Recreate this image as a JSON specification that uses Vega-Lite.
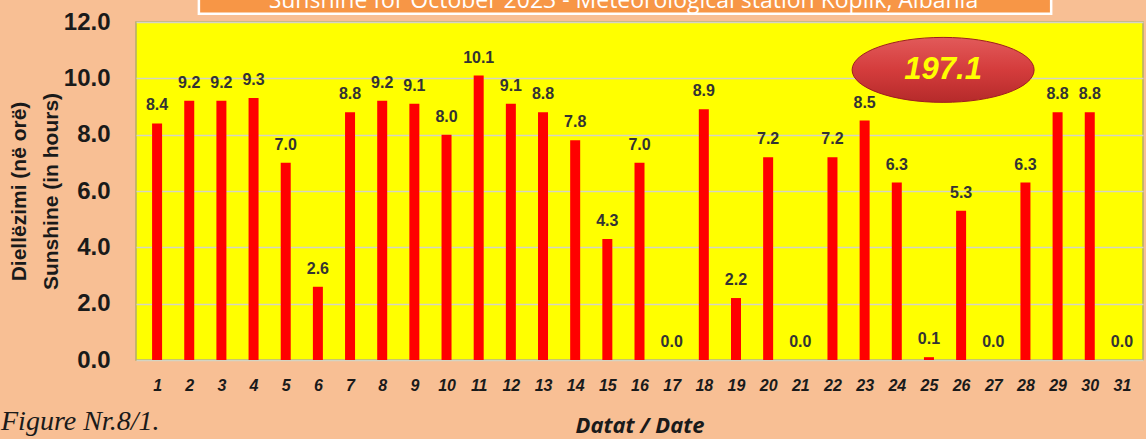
{
  "$schema": "https://vega.github.io/schema/vega-lite/v6.json",
  "width": 1007,
  "height": 338,
  "autosize": {"type": "none"},
  "padding": {"left": 136, "top": 22, "right": 3, "bottom": 79},
  "background": "#f8bf94",
  "config": {
    "view": {"fill": "#ffff00", "stroke": "#b3ad6a", "strokeWidth": 1.5},
    "font": "Liberation Sans",
    "axisX": {
      "labelOverlap": false, "labelFlush": false, "labelBound": false,
      "grid": false, "ticks": false, "domain": false,
      "labelFont": "Liberation Sans", "labelFontSize": 16,
      "labelFontStyle": "italic", "labelFontWeight": "bold",
      "labelColor": "#1a1a1a", "labelPadding": 17,
      "titleFont": "Open Sans", "titleFontSize": 22,
      "titleFontStyle": "italic", "titleFontWeight": "bold",
      "titleColor": "#1a1a1a", "titlePadding": 22
    },
    "axisY": {
      "labelOverlap": false, "ticks": false, "domain": false,
      "gridColor": "#d4d4c4", "gridWidth": 1.5,
      "labelFont": "Liberation Sans", "labelFontSize": 24,
      "labelFontWeight": "bold", "labelColor": "#1a1a1a", "labelPadding": 26,
      "titleFont": "Liberation Sans", "titleFontSize": 21,
      "titleFontWeight": "bold", "titleColor": "#1a1a1a",
      "titleLineHeight": 32
    }
  },
  "title": {
    "text": "Figure Nr.8/1.",
    "orient": "bottom",
    "anchor": "start",
    "frame": "group",
    "font": "Liberation Serif",
    "fontSize": 28,
    "fontStyle": "italic",
    "fontWeight": "normal",
    "color": "#1a1a1a",
    "baseline": "alphabetic",
    "dx": -135,
    "dy": -6,
    "offset": 0
  },
  "datasets": {
    "days": [
      {"day": 1, "hours": 8.4}, {"day": 2, "hours": 9.2}, {"day": 3, "hours": 9.2},
      {"day": 4, "hours": 9.3}, {"day": 5, "hours": 7.0}, {"day": 6, "hours": 2.6},
      {"day": 7, "hours": 8.8}, {"day": 8, "hours": 9.2}, {"day": 9, "hours": 9.1},
      {"day": 10, "hours": 8.0}, {"day": 11, "hours": 10.1}, {"day": 12, "hours": 9.1},
      {"day": 13, "hours": 8.8}, {"day": 14, "hours": 7.8}, {"day": 15, "hours": 4.3},
      {"day": 16, "hours": 7.0}, {"day": 17, "hours": 0.0}, {"day": 18, "hours": 8.9},
      {"day": 19, "hours": 2.2}, {"day": 20, "hours": 7.2}, {"day": 21, "hours": 0.0},
      {"day": 22, "hours": 7.2}, {"day": 23, "hours": 8.5}, {"day": 24, "hours": 6.3},
      {"day": 25, "hours": 0.1}, {"day": 26, "hours": 5.3}, {"day": 27, "hours": 0.0},
      {"day": 28, "hours": 6.3}, {"day": 29, "hours": 8.8}, {"day": 30, "hours": 8.8},
      {"day": 31, "hours": 0.0}
    ],
    "total": [{"day": 25.44, "hours": 10.3, "label": "197.1"}],
    "header": [{"day": 2.3, "day2": 28.8, "hours": 12.29, "hours2": 13.6, "mid": 15.5, "base": 12.5, "label": "Sunshine for October 2023 - Meteorological station Koplik, Albania"}]
  },
  "layer": [
    {
      "data": {"name": "days"},
      "mark": {"type": "bar", "width": 10, "color": "#ff0000"},
      "encoding": {
        "x": {
          "field": "day", "type": "quantitative",
          "scale": {"domain": [0.5, 31.5], "nice": false, "zero": false},
          "axis": {
            "title": "Datat / Date",
            "values": [1,2,3,4,5,6,7,8,9,10,11,12,13,14,15,16,17,18,19,20,21,22,23,24,25,26,27,28,29,30,31],
            "tickCount": 40,
            "format": "d",
            "labelOverlap": false
          }
        },
        "y": {
          "field": "hours", "type": "quantitative",
          "scale": {"domain": [0, 12], "nice": false},
          "axis": {
            "values": [0, 2, 4, 6, 8, 10, 12],
            "tickCount": 10,
            "format": ".1f",
            "title": ["Diellëzimi  (në  orë)", "Sunshine  (in  hours)"],
            "titleAngle": -90,
            "titleX": -107, "titleY": 169,
            "titleAlign": "center", "titleBaseline": "bottom"
          }
        }
      }
    },
    {
      "data": {"name": "days"},
      "mark": {"type": "text", "dy": -18, "baseline": "middle", "font": "Liberation Sans", "fontSize": 16, "fontWeight": "bold", "color": "#333333"},
      "encoding": {
        "x": {"field": "day", "type": "quantitative"},
        "y": {"field": "hours", "type": "quantitative"},
        "text": {"field": "hours", "type": "quantitative", "format": ".1f"}
      }
    },
    {
      "data": {"name": "total"},
      "mark": {
        "type": "point",
        "shape": "M-1,0A1,0.357 0 1,1 1,0A1,0.357 0 1,1 -1,0Z",
        "size": 33124, "filled": true,
        "fill": {"gradient": "linear", "x1": 0, "y1": 0, "x2": 0, "y2": 1, "stops": [{"offset": 0, "color": "#e25a5a"}, {"offset": 0.5, "color": "#d43c3c"}, {"offset": 1, "color": "#b52a2a"}]},
        "stroke": "#9e1e1e", "strokeWidth": 1, "opacity": 1
      },
      "encoding": {
        "x": {"field": "day", "type": "quantitative"},
        "y": {"field": "hours", "type": "quantitative"}
      }
    },
    {
      "data": {"name": "total"},
      "mark": {"type": "text", "baseline": "middle", "align": "center", "font": "Liberation Sans", "fontSize": 31, "fontWeight": "bold", "fontStyle": "italic", "color": "#ffff00"},
      "encoding": {
        "x": {"field": "day", "type": "quantitative"},
        "y": {"field": "hours", "type": "quantitative"},
        "text": {"field": "label"}
      }
    },
    {
      "data": {"name": "header"},
      "mark": {"type": "rect", "fill": "#f79646", "stroke": "#ffffff", "strokeWidth": 2.5},
      "encoding": {
        "x": {"field": "day", "type": "quantitative"},
        "x2": {"field": "day2"},
        "y": {"field": "hours", "type": "quantitative"},
        "y2": {"field": "hours2"}
      }
    },
    {
      "data": {"name": "header"},
      "mark": {"type": "text", "baseline": "alphabetic", "align": "center", "font": "Open Sans", "fontSize": 23, "color": "#ffffff"},
      "encoding": {
        "x": {"field": "mid", "type": "quantitative"},
        "y": {"field": "base", "type": "quantitative"},
        "text": {"field": "label"}
      }
    }
  ]
}
